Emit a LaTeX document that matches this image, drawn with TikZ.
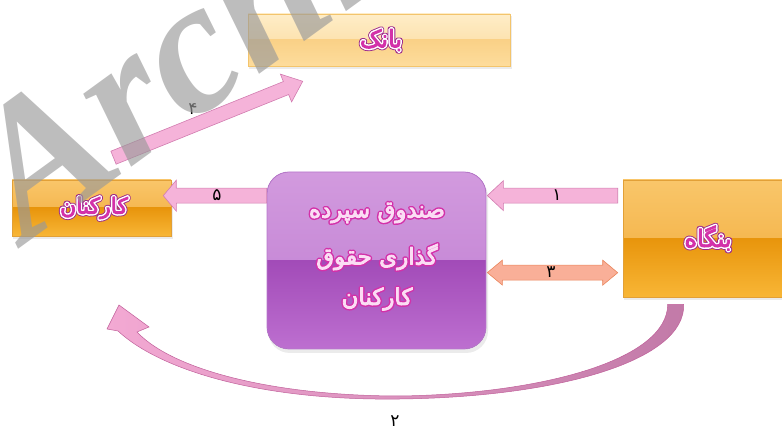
\documentclass[tikz,border=0pt]{standalone}
\usepackage{fontspec}
\usetikzlibrary{calc}
\TeXXeTstate=1
\newfontfamily\fa[Script=Arabic]{DejaVu Sans}
\newfontfamily\wmfont{Liberation Serif}

\definecolor{orT}{HTML}{F9C66A}
\definecolor{orM}{HTML}{F1AA38}
\definecolor{orL}{HTML}{E8950C}
\definecolor{orB}{HTML}{F8B636}
\definecolor{orE}{HTML}{E2A037}
\definecolor{bkT}{HTML}{FEEDC8}
\definecolor{bkM}{HTML}{FBD896}
\definecolor{bkL}{HTML}{FAD187}
\definecolor{bkB}{HTML}{FDDC9C}
\definecolor{bkE}{HTML}{F3C46C}
\definecolor{puT}{HTML}{D29ADE}
\definecolor{puM}{HTML}{BE7CD1}
\definecolor{puL}{HTML}{A24BB8}
\definecolor{puB}{HTML}{BD6FD0}
\definecolor{puE}{HTML}{B777CB}
\definecolor{pkF}{HTML}{F5B3D9}
\definecolor{pkE}{HTML}{D27CB0}
\definecolor{saF}{HTML}{F9AF98}
\definecolor{saE}{HTML}{E9845A}
\definecolor{cvL}{HTML}{F3A9D3}
\definecolor{cvR}{HTML}{C27AA8}
\definecolor{cvE}{HTML}{C0609A}

\tikzset{
  glass/.style n args={4}{path picture={
    \fill[sharp corners,top color=#1,bottom color=#2] (path picture bounding box.north west) rectangle (path picture bounding box.east);
    \fill[sharp corners,top color=#3,bottom color=#4] (path picture bounding box.west) rectangle (path picture bounding box.south east);}},
  orangebox/.style={draw=orE, line width=0.6pt, glass={orT}{orM}{orL}{orB}, inner sep=0pt},
  bankbox/.style={draw=bkE, line width=0.6pt, glass={bkT}{bkM}{bkL}{bkB}, inner sep=0pt},
  fundbox/.style={draw=puE, line width=0.8pt, rounded corners=22pt, glass={puT}{puM}{puL}{puB}, inner sep=0pt},
  pinkarrow/.style={fill=pkF, draw=pkE, line width=0.6pt, line join=miter},
  salarrow/.style={fill=saF, draw=saE, line width=0.6pt},
  lblA/.style={font=\fa\fontsize{24}{27}\selectfont, inner sep=0pt},
  lblB/.style={font=\fa\fontsize{22}{25}\selectfont, inner sep=0pt},
  lblC/.style={font=\fa\fontsize{23}{26}\selectfont, inner sep=0pt},
  numlbl/.style={font=\fa\fontsize{17}{19}\selectfont, text=black, inner sep=0pt},
  shadowbox/.style={fill=black, opacity=0.08}
}

% text filled and stroked in one colour: #1 "r g b", #2 stroke width, #3 text
\newcommand\ptxt[3]{\special{pdf:literal direct #1 rg #1 RG #2 w 1 j 2 Tr}#3\special{pdf:literal direct 0 Tr}}

% magenta label with white and dark outline: #1 style, #2 position, #3 name, #4 text
\newcommand\sidelabel[4]{%
  \node[#1] at (#2) {\ptxt{0.612 0.165 0.541}{5.6}{#4}};
  \node[#1] at (#2) {\ptxt{1 1 1}{3.8}{#4}};
  \node[#1] (#3) at (#2) {\ptxt{0.827 0.192 0.663}{0.9}{#4}};}

% light label with magenta outline: #1 style, #2 position, #3 name, #4 text
\newcommand\fundlabel[4]{%
  \node[#1] at (#2) {\ptxt{0.827 0.192 0.663}{3.8}{#4}};
  \node[#1] (#3) at (#2) {\ptxt{0.984 0.867 0.957}{0.9}{#4}};}

% block arrow: #1 style, #2 tail, #3 tip, #4 shaft half width, #5 head half width, #6 head length
\newcommand\blockarr[6]{%
  \coordinate (hh) at ($(#3)!#6!(#2)$);
  \path[#1] ($(#2)!#4!90:(hh)$) -- ($(hh)!#4!-90:(#2)$) -- ($(hh)!#5!-90:(#2)$) -- (#3)
     -- ($(hh)!#5!90:(#2)$) -- ($(hh)!#4!90:(#2)$) -- ($(#2)!#4!-90:(hh)$) -- cycle;}

% double block arrow: #1 style, #2 left tip, #3 right tip, #4 shaft hw, #5 head hw, #6 head len
\newcommand\dblarr[6]{%
  \coordinate (ha) at ($(#2)!#6!(#3)$);
  \coordinate (hb) at ($(#3)!#6!(#2)$);
  \path[#1] (#2) -- ($(ha)!#5!90:(#3)$) -- ($(ha)!#4!90:(#3)$) -- ($(hb)!#4!-90:(#2)$)
     -- ($(hb)!#5!-90:(#2)$) -- (#3) -- ($(hb)!#5!90:(#2)$) -- ($(hb)!#4!90:(#2)$)
     -- ($(ha)!#4!-90:(#3)$) -- ($(ha)!#5!-90:(#3)$) -- cycle;}

\begin{document}
\begin{tikzpicture}[x=1pt,y=1pt]
\useasboundingbox (0,0) rectangle (782,430);
\clip (0,0) rectangle (782,430);

% shadows
\fill[shadowbox] (249,361) rectangle (512,414);
\fill[shadowbox] (13,191) rectangle (173,248);
\fill[shadowbox] (624,130) rectangle (786,248);
\fill[shadowbox, rounded corners=22pt] (268,77) rectangle (488,255);

% boxes
\node[bankbox, minimum width=262pt, minimum height=52pt] (bank) at (379,390) {};
\node[orangebox, minimum width=159pt, minimum height=56pt] (karkonan) at (91.5,222) {};
\node[orangebox, minimum width=163pt, minimum height=117pt] (bongah) at (704.5,191.5) {};
\node[fundbox, minimum width=219pt, minimum height=177pt] (fund) at (376.5,169.5) {};

% box texts
\sidelabel{lblA}{381,390}{tbank}{\beginR بانک\endR}
\sidelabel{lblB}{94,222}{tkark}{\beginR کارکنان\endR}
\sidelabel{lblA}{708,192}{tbong}{\beginR بنگاه\endR}
\fundlabel{lblC}{377,217}{tfa}{\beginR صندوق سپرده\endR}
\fundlabel{lblC}{377,173}{tfb}{\beginR گذاری حقوق\endR}
\fundlabel{lblC}{377,131}{tfc}{\beginR کارکنان\endR}

% connector coordinates
\coordinate (a1s) at ($(bongah.north west)+(-5,-16)$);
\coordinate (a1e) at ($(fund.north east)+(1,-24)$);
\coordinate (a3l) at ($(fund.north east)+(1,-101)$);
\coordinate (a3r) at ($(bongah.north west)+(-5,-93)$);
\coordinate (a5s) at ($(fund.north west)+(0,-24)$);
\coordinate (a5e) at ($(karkonan.north east)+(-8,-16)$);
\coordinate (a4s) at ($(karkonan.north)+(22,22)$);
\coordinate (a4e) at ($(bank.south west)+(55,-15)$);
\coordinate (a2s) at ($(bongah.south west)+(53,-7)$);

% arrows
\blockarr{pinkarrow}{a1s}{a1e}{7.5pt}{15pt}{16pt}
\dblarr{salarrow}{a3l}{a3r}{7.5pt}{12.5pt}{15pt}
\blockarr{pinkarrow}{a5s}{a5e}{7.5pt}{15.5pt}{13pt}
\blockarr{pinkarrow}{a4s}{a4e}{7pt}{15pt}{18pt}

% curved arrow 2
\path[left color=cvL, right color=cvR, draw=cvE, line width=0.5pt]
  ($(a2s)+(8,0)$) .. controls ($(a2s)+(10,-56)$) and (560,33) .. (400,31)
  .. controls (260,29) and (160,60) .. (118,99) -- (107,101) -- (119,125) -- (149,103) -- (137,98)
  .. controls (175,58) and (280,34) .. (400,34)
  .. controls (540,36) and ($(a2s)+(-8,-56)$) .. ($(a2s)+(-8,0)$) -- cycle;

% number labels
\node[numlbl] (n1) at (557,235) {۱};
\node[numlbl] (n3) at (551,158) {۳};
\node[numlbl] (n5) at (217,235) {۵};
\node[numlbl] (n4) at (193,321) {۴};
\node[numlbl] (n2) at (395,9) {۲};

% watermark
\node[rotate=36, anchor=base west, inner sep=0pt,
      font=\wmfont\bfseries\itshape\fontsize{190}{190}\selectfont,
      text=black!40, text opacity=0.65] (wm) at (26,186) {Archive};
\end{tikzpicture}
\end{document}
